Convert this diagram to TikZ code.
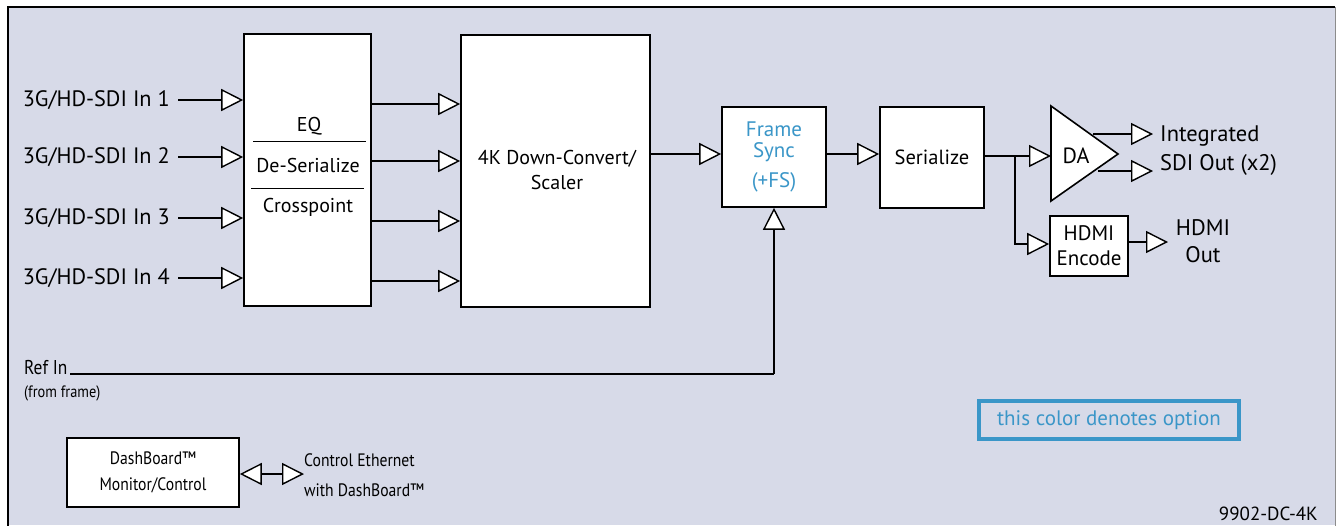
\documentclass[tikz,border=0pt]{standalone}
\usepackage{fontspec}
\setmainfont{PT Sans}
\newfontfamily\condfont[FakeStretch=0.87]{PT Sans}
\usetikzlibrary{arrows.meta}
\definecolor{bgc}{HTML}{D7DAE8}
\definecolor{optc}{HTML}{3A96C8}
\begin{document}
\begin{tikzpicture}[x=1pt,y=-1pt,
  blk/.style={draw=black, line width=1.6pt, fill=white, inner sep=0pt},
  lbl/.style={inner sep=0pt, font=\fontsize{20}{25}\selectfont},
  olbl/.style={inner sep=0pt, font=\fontsize{22.3}{25}\selectfont},
  tip/.style={-{Triangle[length=22pt,width=22pt,fill=white,line width=1.4pt]}},
  conn/.style={line width=1.6pt, tip},
  dconn/.style={line width=1.6pt, {Triangle[length=22pt,width=22pt,fill=white,line width=1.4pt]}-{Triangle[length=22pt,width=22pt,fill=white,line width=1.4pt]}},
  plain/.style={line width=1.6pt}]
\useasboundingbox (0,0) rectangle (1336,525);
% frame
\fill[bgc] (8,7) rectangle (1336,525);
\draw[line width=2.5pt] (8,526) -- (8,7) -- (1335,7);
\draw[line width=1pt, black!45] (1335,7) -- (1335,526);

% blocks
\node[blk, minimum width=127pt, minimum height=272pt] (b1) at (307.5,170) {};
\node[lbl] (eq) at (309,126) {EQ};
\node[lbl] (des) at (308,165) {De-Serialize};
\node[lbl] (xp) at (308,207) {Crosspoint};
\draw[line width=0.9pt] (253,141) -- (366,141);
\draw[line width=0.9pt] (251,188) -- (364,188);

\node[blk, minimum width=189pt, minimum height=272pt] (b2) at (555.5,171) {};
\node[lbl, align=center] (b2t) at (557,170) {4K Down-Convert/\\Scaler};

\node[blk, minimum width=104pt, minimum height=100pt, text=optc, align=center, font=\fontsize{21}{21}\selectfont] (fs) at (774,157) {Frame\\Sync\\[9pt](+FS)};

\node[blk, minimum width=104pt, minimum height=101pt, font=\fontsize{20.5}{25}\selectfont] (ser) at (932,157.5) {Serialize};

\coordinate (daA) at (1051,106);
\coordinate (daB) at (1051,201);
\coordinate (daC) at (1118,154);
\draw[line width=1.6pt, fill=white, line join=miter] (daA) -- (daC) -- (daB) -- cycle;
\node[inner sep=0pt, font=\fontsize{22}{25}\selectfont] (da) at (1076,156) {DA};

\node[blk, minimum width=78pt, minimum height=60pt, align=center, font=\fontsize{21}{25}\selectfont] (hdmi) at (1089,246) {HDMI\\Encode};

\node[blk, minimum width=172pt, minimum height=69pt, align=center, font=\condfont\fontsize{18}{26}\selectfont] (dash) at (153,472.5) {DashBoard™\\Monitor/Control};

\node[draw=optc, line width=3.5pt, minimum width=260pt, minimum height=38pt, inner sep=0pt, text=optc, font=\fontsize{21}{22}\selectfont] (legend) at (1109,420) {this color denotes option};

% input labels
\node[olbl, anchor=east] (in1) at (170,100) {3G/HD-SDI In 1};
\node[olbl, anchor=east] (in2) at (170,157) {3G/HD-SDI In 2};
\node[olbl, anchor=east] (in3) at (170,218) {3G/HD-SDI In 3};
\node[olbl, anchor=east] (in4) at (170,278) {3G/HD-SDI In 4};
\foreach \n in {in1,in2,in3,in4}
  \draw[conn] ([xshift=8pt]\n.east) -- (\n.east -| b1.west);

% b1 -> b2
\foreach \yy in {104,161,221,281}
  \draw[conn] (b1.east |- 0,\yy) -- (b2.west |- 0,\yy);

% b2 -> fs -> ser
\draw[conn] (b2.east |- 0,154) -- (fs.west |- 0,154);
\draw[conn] (fs.east |- 0,154) -- (ser.west |- 0,154);

% ser -> DA, HDMI
\coordinate (br) at (1015,156);
\draw[plain] (ser.east |- br) -- (br);
\draw[conn] (br) -- (daA |- br);
\draw[conn] (br) |- (hdmi.west |- 0,244);

% DA outputs
\coordinate (o1) at (1093,134);
\coordinate (o2) at (1098,171);
\node[olbl, anchor=west, align=left, font=\fontsize{22.5}{29}\selectfont] (sdiout) at (1160,151) {Integrated\\SDI Out (x2)};
\draw[conn] (o1) -- (1153,134);
\draw[conn] (o2) -- (1153,171);

% HDMI out
\node[olbl, align=center, font=\fontsize{22.5}{27}\selectfont] (hdmiout) at (1203,241) {HDMI\\Out};
\draw[conn] (hdmi.east |- 0,242) -- (1168,242);

% Ref in
\node[inner sep=0pt, anchor=west, font=\condfont\fontsize{20}{25}\selectfont] (ref) at (24,368) {Ref In};
\node[inner sep=0pt, anchor=west, font=\condfont\fontsize{16.5}{18}\selectfont] (fromf) at (24,393) {(from frame)};
\coordinate (rc) at (774,374);
\draw[line width=1.4pt] (70,374) -- (rc);
\draw[conn] (rc) -- (fs.south);

% DashBoard
\node[inner sep=0pt, anchor=west, align=left, font=\condfont\fontsize{18}{30}\selectfont] (ctl) at (304,475) {Control Ethernet\\with DashBoard™};
\draw[dconn] (dash.east |- 0,474) -- (ctl.west |- 0,474);

\node[inner sep=0pt, anchor=east, font=\fontsize{19}{20}\selectfont] (code) at (1318,514) {9902-DC-4K};
\end{tikzpicture}
\end{document}
